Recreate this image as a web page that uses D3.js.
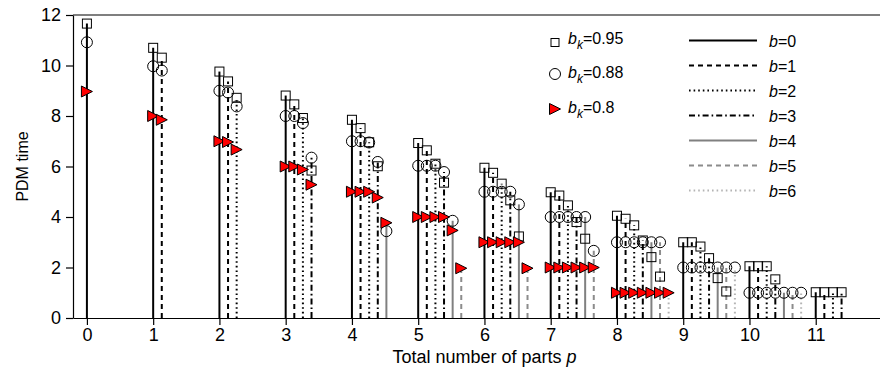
<!DOCTYPE html>
<html>
<head>
<meta charset="utf-8">
<script src="https://cdn.jsdelivr.net/npm/d3@7"></script>
<style>
body { margin: 0; background: #fff; }
text { font-family: "Liberation Sans", Arial, sans-serif; fill: #000; }
</style>
</head>
<body>
<div class="chart"></div>
<script>
// total number of parts p
var parts = [0, 1, 2, 3, 4, 5, 6, 7, 8, 9, 10, 11];

// PDM time per p, one entry per b (null = no marker)
var bk95 = [
    [11.66],
    [10.7, 10.31],
    [9.76, 9.37, 8.72],
    [8.81, 8.46, 7.92, 5.84],
    [7.85, 7.52, 6.96, 6.01, null],
    [6.93, 6.64, 6.11, 5.36, null, null],
    [5.95, 5.75, 5.32, 4.66, 3.23, null],
    [4.98, 4.85, 4.46, 3.8, 3.14, null],
    [4.05, 3.93, 3.67, 3.07, 2.41, 1.64, null],
    [3.0, 3.0, 2.83, 2.37, 1.58, 1.05, null],
    [2.05, 2.05, 2.05, 1.53, null, null, null],
    [1.02, 1.02, 1.02, 1.02]
];
var bk88 = [
    [10.92],
    [9.97, 9.8],
    [9.0, 8.93, 8.38],
    [8.0, 8.0, 7.72, 6.35],
    [7.0, 7.0, 6.95, 6.18, 3.44],
    [6.03, 6.03, 6.03, 5.78, 3.85, null],
    [5.0, 5.0, 5.0, 5.0, 4.5, null],
    [4.0, 4.0, 4.0, 4.0, 4.0, 2.66],
    [3.0, 3.0, 3.0, 3.0, 3.0, 3.0, null],
    [2.0, 2.0, 2.0, 2.0, 2.0, 2.0, 2.0],
    [1.0, 1.0, 1.0, 1.0, 1.0, 1.0, 1.0],
    []
];
var bk80 = [
    [8.97],
    [8.0, 7.85],
    [7.0, 6.97, 6.67],
    [6.0, 6.0, 5.88, 5.28],
    [5.0, 5.0, 5.0, 4.77, 3.77],
    [4.0, 4.0, 4.0, 4.0, 3.47, 1.97],
    [3.0, 3.0, 3.0, 3.0, 3.0, 1.97],
    [2.0, 2.0, 2.0, 2.0, 2.0, 2.0],
    [1.0, 1.0, 1.0, 1.0, 1.0, 1.0, 1.0],
    [], [], []
];
var bValues = [0, 1, 2, 3, 4, 5, 6];
var bkLabels = ["0.95", "0.88", "0.8"];
var yTicks = [0, 2, 4, 6, 8, 10, 12];

var width = 880;
var height = 377;
var mLeft = 73, mRight = 880, mTop = 15, mBottom = 318;
var shift = 0.13; // x shift of each b inside a group

var stemColor = ["#000", "#000", "#000", "#000", "#808080", "#8c8c8c", "#b4b4b4"];
var stemDash = ["none", "5,4", "1.6,3", "6,3,1.6,3", "none", "5,4", "1.6,3"];

var x = d3.scaleLinear().domain([-0.21, 11.97]).range([mLeft, mRight]);
var y = d3.scaleLinear().domain([0, 12]).range([mBottom, mTop]);

function build_svg(c) {
    return c.append("svg").attr("width", width).attr("height", height);
}

function tri(g) {
    g.append("path").attr("d", "M-5.5,-5.5L5.5,0L-5.5,5.5Z")
        .attr("fill", "#f00").attr("stroke", "#000").attr("stroke-width", 1);
}

function build_axis(s) {
    var yAxis = d3.axisLeft(y).tickValues(yTicks).tickSize(7).tickSizeOuter(0).tickPadding(5);
    var xAxis = d3.axisBottom(x).tickValues(parts).tickSize(7).tickSizeOuter(0).tickPadding(3);
    var gy = s.append("g").attr("transform", "translate(" + mLeft + ",0)").call(yAxis);
    var gx = s.append("g").attr("transform", "translate(0," + mBottom + ")").call(xAxis);
    [gx, gy].forEach(function(g) {
        g.selectAll("text").style("font-size", "18px").style("font-family", "Liberation Sans, Arial, sans-serif");
        g.selectAll("line, path").attr("stroke", "#000").attr("stroke-width", 1.2);
    });
    s.append("line").attr("x1", mLeft).attr("x2", mRight).attr("y1", mTop).attr("y2", mTop)
        .attr("stroke", "#000").attr("stroke-width", 1.2);

    s.append("text").attr("x", x(6)).attr("y", 363).attr("text-anchor", "middle")
        .style("font-size", "18px")
        .html('Total number of parts <tspan font-style="italic">p</tspan>');
    s.append("text").attr("transform", "translate(28," + ((mTop + mBottom) / 2) + ") rotate(-90)")
        .attr("text-anchor", "middle").style("font-size", "16px").text("PDM time");
}

function build_stems(s) {
    var stems = [];
    parts.forEach(function(p, i) {
        var n = Math.max(bk95[i].length, bk88[i].length, bk80[i].length);
        for (var b = 0; b < n; b++) {
            var vals = [bk95[i][b], bk88[i][b], bk80[i][b]].filter(function(v) { return v != null; });
            if (vals.length) stems.push({p: p, b: b, v: d3.max(vals)});
        }
    });
    s.selectAll(".stem").data(stems).enter().append("line")
        .attr("class", "stem")
        .attr("x1", function(d) { return x(d.p + shift * d.b); })
        .attr("x2", function(d) { return x(d.p + shift * d.b); })
        .attr("y1", y(0))
        .attr("y2", function(d) { return y(d.v); })
        .attr("stroke", function(d) { return stemColor[d.b]; })
        .attr("stroke-dasharray", function(d) { return stemDash[d.b]; })
        .attr("stroke-width", 2);
}

function points(series) {
    var out = [];
    parts.forEach(function(p, i) {
        series[i].forEach(function(v, b) {
            if (v != null) out.push({p: p, b: b, v: v});
        });
    });
    return out;
}

function build_markers(s) {
    s.selectAll(".sq").data(points(bk95)).enter().append("rect")
        .attr("class", "sq")
        .attr("x", function(d) { return x(d.p + shift * d.b) - 4.5; })
        .attr("y", function(d) { return y(d.v) - 4.5; })
        .attr("width", 9).attr("height", 9)
        .attr("fill", "none").attr("stroke", "#000").attr("stroke-width", 1);
    s.selectAll(".ci").data(points(bk88)).enter().append("circle")
        .attr("class", "ci")
        .attr("cx", function(d) { return x(d.p + shift * d.b); })
        .attr("cy", function(d) { return y(d.v); })
        .attr("r", 5.5)
        .attr("fill", "none").attr("stroke", "#000").attr("stroke-width", 1);
    s.selectAll(".tr").data(points(bk80)).enter().append("g")
        .attr("class", "tr")
        .attr("transform", function(d) { return "translate(" + x(d.p + shift * d.b) + "," + y(d.v) + ")"; })
        .each(function() { tri(d3.select(this)); });
}

function build_legend(s) {
    var lg = s.append("g");
    var rowY = [42.5, 77, 112];
    lg.append("rect").attr("x", 551).attr("y", rowY[0] - 4).attr("width", 8).attr("height", 8)
        .attr("fill", "none").attr("stroke", "#000");
    lg.append("circle").attr("cx", 555).attr("cy", rowY[1] - 3).attr("r", 5.5)
        .attr("fill", "none").attr("stroke", "#000");
    tri(lg.append("g").attr("transform", "translate(555," + (rowY[2] - 3) + ")"));
    bkLabels.forEach(function(t, i) {
        lg.append("text").attr("x", 568).attr("y", rowY[i] + 1).style("font-size", "16px")
            .html('<tspan font-style="italic">b</tspan><tspan font-style="italic" font-size="12" dy="5">k</tspan><tspan dy="-5">=' + t + '</tspan>');
    });

    bValues.forEach(function(b, i) {
        var ly = 40.5 + 25 * i;
        lg.append("line").attr("x1", 689).attr("x2", 757).attr("y1", ly).attr("y2", ly)
            .attr("stroke", stemColor[i]).attr("stroke-dasharray", stemDash[i]).attr("stroke-width", 2);
        lg.append("text").attr("x", 769).attr("y", ly + 6).style("font-size", "16px")
            .html('<tspan font-style="italic">b</tspan>=' + b);
    });
}

function main() {
    var container = d3.select(".chart");
    var svg = build_svg(container);
    build_stems(svg);
    build_markers(svg);
    build_axis(svg);
    build_legend(svg);
}

main();
</script>
</body>
</html>
